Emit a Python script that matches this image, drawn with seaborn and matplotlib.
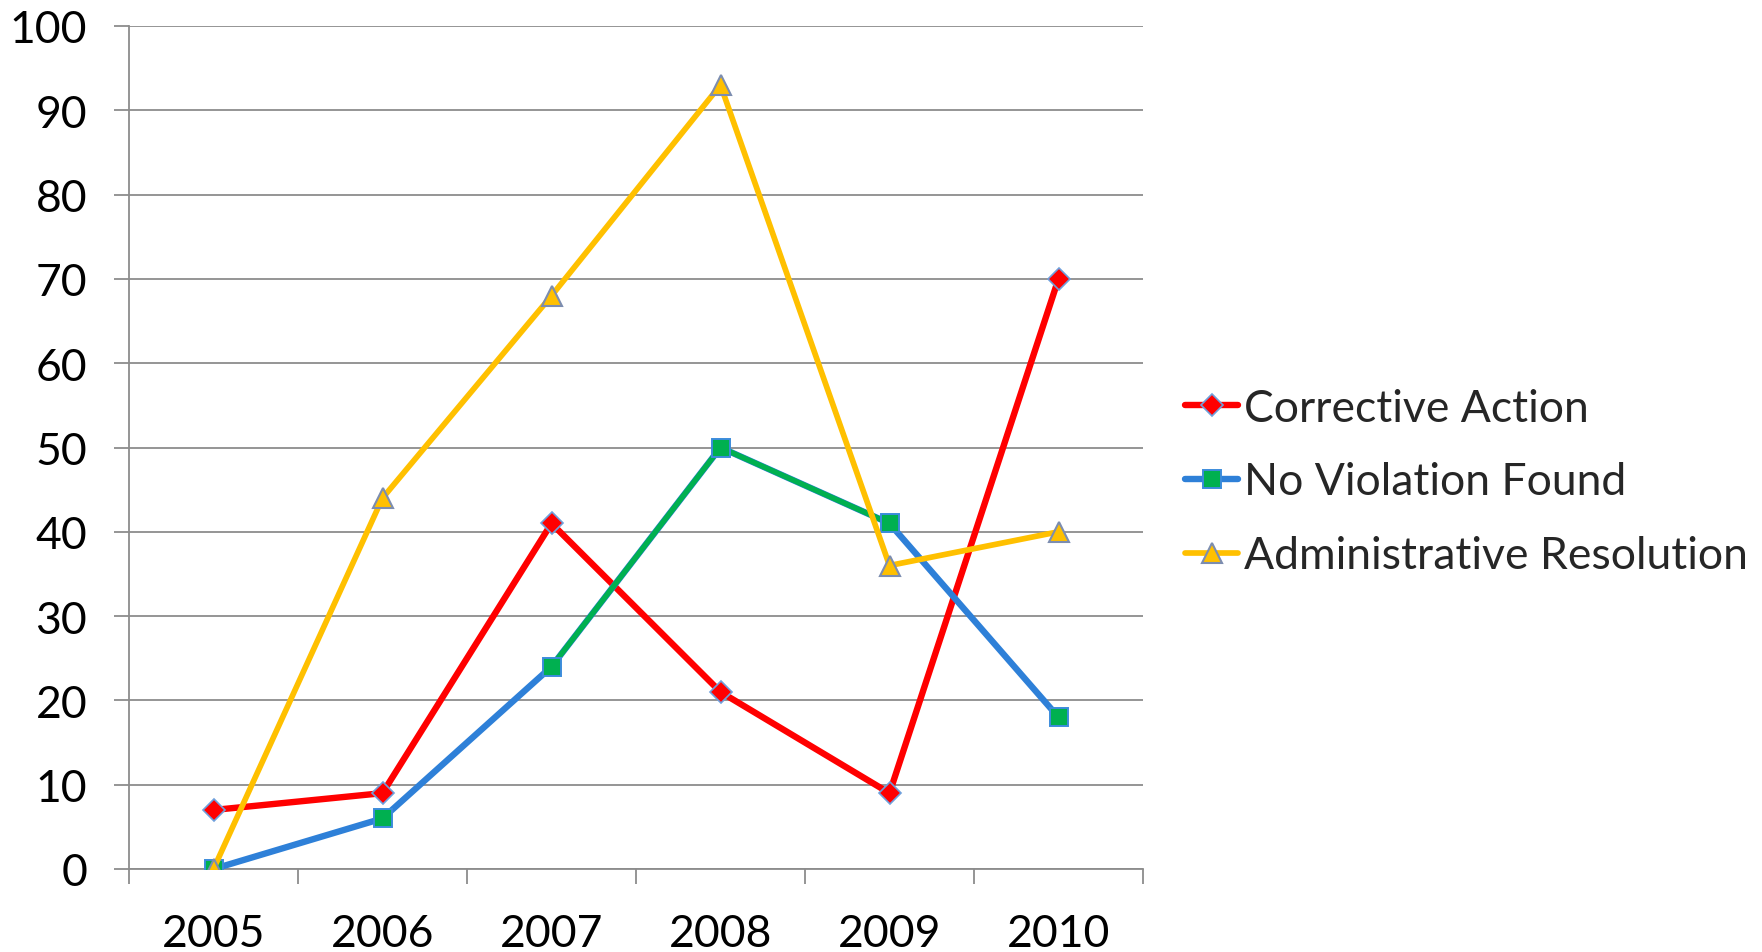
import matplotlib
matplotlib.use("Agg")
import matplotlib.pyplot as plt
import seaborn as sns
import numpy as np
import pandas as pd
from matplotlib.ticker import FixedLocator
from matplotlib.lines import Line2D

years = ["2005", "2006", "2007", "2008", "2009", "2010"]
corrective = [7, 9, 41, 21, 9, 70]
no_violation = [0, 6, 24, 50, 41, 18]
admin_res = [0, 44, 68, 93, 36, 40]
green_span = ["2007", "2008", "2009"]  # segments drawn green in the source chart

sns.set_theme(style="white")
plt.rcParams["font.family"] = ["Lato", "DejaVu Sans"]

fig = plt.figure(figsize=(17.62, 9.53), dpi=100)
W, H = 1762, 953
left, right, top, bottom = 129, 1143, 27, 870
ax = fig.add_axes([left / W, (H - bottom) / H, (right - left) / W, (bottom - top) / H])

x = np.arange(len(years))
df = pd.DataFrame({"x": x, "year": years, "ca": corrective, "nv": no_violation, "ar": admin_res})
dg = df[df["year"].isin(green_span)]

RED, BLUE, GREEN, YEL = "#FF0000", "#2E80D8", "#00B050", "#FFC000"
ca_style = dict(color=RED, linewidth=4.6, marker="D", markersize=11, markerfacecolor=RED,
                markeredgecolor="#6FA0DC", markeredgewidth=1.2)
nv_mk = dict(marker="s", markersize=13.5, markerfacecolor=GREEN,
             markeredgecolor="#3C8CDC", markeredgewidth=1.4)
ar_style = dict(color=YEL, linewidth=4.1, marker="^", markersize=15, markerfacecolor=YEL,
                markeredgecolor="#7C8DB0", markeredgewidth=1.5)

sns.lineplot(data=df, x="x", y="ca", ax=ax, zorder=3, **ca_style)
sns.lineplot(data=df, x="x", y="nv", ax=ax, color=BLUE, linewidth=4.6, zorder=4)
sns.lineplot(data=dg, x="x", y="nv", ax=ax, color=GREEN, linewidth=3.9, zorder=4.1)
sns.lineplot(data=df, x="x", y="nv", ax=ax, color="none", linewidth=0, zorder=4.2, **nv_mk)
sns.lineplot(data=df, x="x", y="ar", ax=ax, zorder=5, **ar_style)

ax.set_xlim(-0.5, len(years) - 0.5)
ax.set_ylim(0, 100)
ax.set_yticks(np.arange(0, 101, 10))
ax.set_xticks(x)
ax.set_xticklabels(years)
ax.xaxis.set_minor_locator(FixedLocator(np.arange(-0.5, len(years), 1.0)))
ax.set_xlabel("")
ax.set_ylabel("")

grid_c = "#8C8C8C"
ax.grid(axis="y", color=grid_c, linewidth=1.3)
ax.set_axisbelow(True)
for s in ["top", "right"]:
    ax.spines[s].set_visible(False)
for s in ["left", "bottom"]:
    ax.spines[s].set_color(grid_c)
    ax.spines[s].set_linewidth(1.3)

ax.tick_params(axis="y", which="major", length=11, width=1.3, color=grid_c,
               labelsize=32, labelcolor="black", pad=19, left=True)
ax.tick_params(axis="x", which="major", length=0, labelsize=32, labelcolor="black", pad=32)
ax.tick_params(axis="x", which="minor", length=11, width=1.3, color=grid_c, bottom=True)

handles = [
    Line2D([], [], **ca_style),
    Line2D([], [], color=BLUE, linewidth=4.6, **nv_mk),
    Line2D([], [], **ar_style),
]
labels = ["Corrective Action", "No Violation Found", "Administrative Resolution"]
ax.legend(handles, labels, loc="center left", bbox_to_anchor=(1185 / W, (H - 483) / H),
          bbox_transform=fig.transFigure, frameon=False, fontsize=32,
          handlelength=1.2, handletextpad=0.12, labelspacing=0.74, borderpad=0, borderaxespad=0)

fig.savefig("out.png", dpi=100)
